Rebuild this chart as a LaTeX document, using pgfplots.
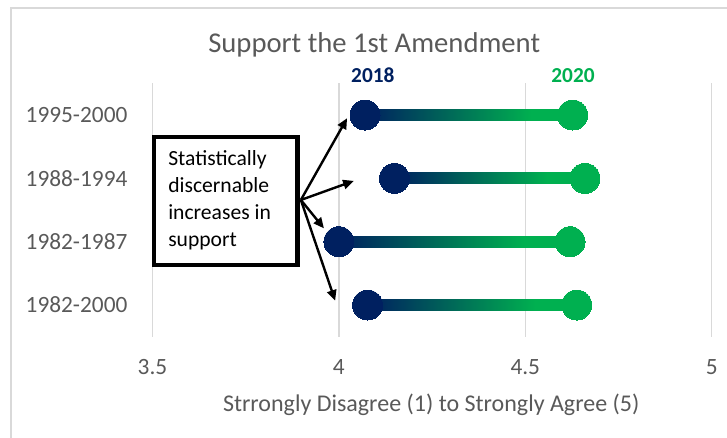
\documentclass[border=0pt]{standalone}
\usepackage{fontspec}
\setmainfont{Carlito}
\usepackage{pgfplots}
\usepackage{pgfplotstable}
\pgfplotsset{compat=1.18}
\usetikzlibrary{arrows.meta}
\definecolor{navy}{HTML}{002060}
\definecolor{grn}{HTML}{00B050}
\definecolor{txtgray}{HTML}{595959}
\definecolor{gridgray}{HTML}{D9D9D9}
\pgfdeclarehorizontalshading{dumbbell}{100bp}{color(0bp)=(navy); color(25bp)=(navy); color(65bp)=(grn); color(100bp)=(grn)}

\pgfplotstableread{
y x2018 x2020
3 4.070 4.627
2 4.149 4.660
1 4.000 4.620
0 4.077 4.638
}\dumbdata

\begin{document}
\begin{tikzpicture}
\useasboundingbox (0,0) rectangle (545.25pt,328.5pt);
\draw[gridgray, line width=1.1pt] (8.25pt,0) -- (8.25pt,322.5pt) -- (545.25pt,322.5pt);
\begin{axis}[
  at={(114.375pt,75.975pt)}, anchor=south west,
  scale only axis, width=419.4pt, height=190pt,
  xmin=3.5, xmax=5, ymin=-0.5, ymax=3.5,
  xtick={3.5,4,4.5,5}, ytick={0,1,2,3},
  yticklabels={1982-2000,1982-1987,1988-1994,1995-2000},
  xmajorgrids, major grid style={gridgray, line width=1.1pt},
  axis line style={draw=none}, major tick length=0pt,
  tick style={draw=none},
  /pgf/number format/assume math mode=true,
  xticklabel style={font=\fontsize{17.5pt}{20pt}\selectfont, text=txtgray, anchor=base, yshift=-28.7pt, inner sep=0pt},
  yticklabel style={font=\fontsize{17.5pt}{20pt}\selectfont, text=txtgray, anchor=east, inner sep=0pt, xshift=-18.6pt},
  clip=false,
]
% gradient bars
\addplot[draw=none, shade, shading=dumbbell] coordinates {(4.070,2.913) (4.627,2.913) (4.627,3.087) (4.070,3.087)} -- cycle;
\addplot[draw=none, shade, shading=dumbbell] coordinates {(4.149,1.913) (4.660,1.913) (4.660,2.087) (4.149,2.087)} -- cycle;
\addplot[draw=none, shade, shading=dumbbell] coordinates {(4.000,0.913) (4.620,0.913) (4.620,1.087) (4.000,1.087)} -- cycle;
\addplot[draw=none, shade, shading=dumbbell] coordinates {(4.077,-0.087) (4.638,-0.087) (4.638,0.087) (4.077,0.087)} -- cycle;
% dots
\addplot[navy, only marks, mark=*, mark size=11.25pt, mark options={draw=navy, fill=navy, line width=0pt}] table[x=x2018, y=y]{\dumbdata};
\addplot[grn, only marks, mark=*, mark size=11.25pt, mark options={draw=grn, fill=grn, line width=0pt}] table[x=x2020, y=y]{\dumbdata};
% labels
\node[anchor=base, font=\fontsize{16pt}{19pt}\selectfont\bfseries, text=navy] at (axis cs:4.091,3.51) {2018};
\node[anchor=base, font=\fontsize{16pt}{19pt}\selectfont\bfseries, text=grn] at (axis cs:4.628,3.51) {2020};
\node[anchor=base, font=\fontsize{21.5pt}{25pt}\selectfont, text=txtgray] at (axis cs:4.0947,3.99) {Support the 1st Amendment};
\node[anchor=base, font=\fontsize{18pt}{21pt}\selectfont, text=txtgray] at (axis cs:4.2476,-1.674) {Strrongly Disagree (1) to Strongly Agree (5)};
% annotation box
\draw[line width=3.4pt, fill=white] (axis cs:3.504,0.632) rectangle (axis cs:3.889,2.653);
\node[anchor=north west, inner sep=0pt, align=left, font=\fontsize{16.2pt}{20.3pt}\selectfont] at (axis cs:3.5416,2.44) {Statistically\\discernable\\increases in\\support};
% arrows
\draw[-{Triangle[length=8pt,width=7pt]}, line width=1.8pt] (axis cs:3.898,1.659) -- (axis cs:4.022,2.95);
\draw[-{Triangle[length=8pt,width=7pt]}, line width=1.8pt] (axis cs:3.898,1.659) -- (axis cs:4.04,1.96);
\draw[-{Triangle[length=8pt,width=7pt]}, line width=1.8pt] (axis cs:3.898,1.659) -- (axis cs:3.96,1.21);
\draw[-{Triangle[length=8pt,width=7pt]}, line width=1.8pt] (axis cs:3.898,1.659) -- (axis cs:3.99,0.068);
\end{axis}
\end{tikzpicture}
\end{document}
